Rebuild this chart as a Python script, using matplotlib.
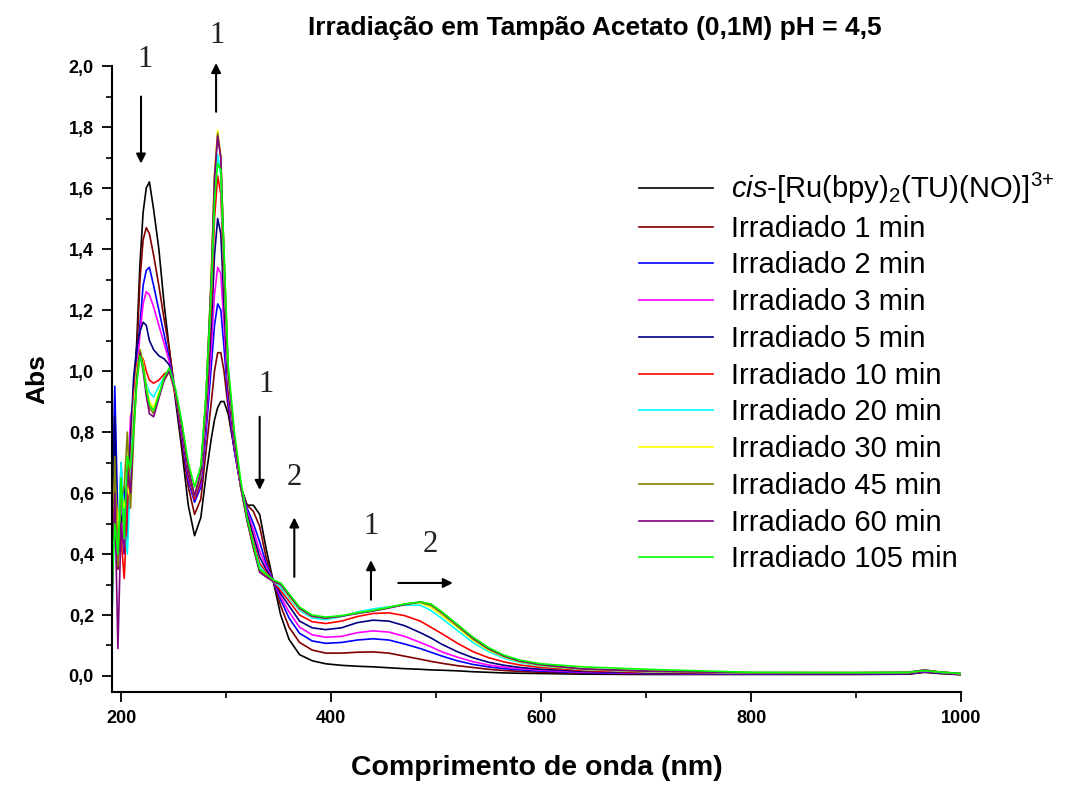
import matplotlib
matplotlib.use("Agg")
import matplotlib.pyplot as plt
from matplotlib.ticker import MultipleLocator, FuncFormatter

plt.rcParams['font.family'] = ['Liberation Sans', 'DejaVu Sans']
plt.rcParams['mathtext.fontset'] = 'custom'
plt.rcParams['mathtext.rm'] = 'Liberation Sans'
plt.rcParams['mathtext.it'] = 'Liberation Sans:italic'

# wavelength grid (nm)
wl = [191, 194, 197, 200, 203, 206, 209, 212, 215,
      218, 221, 224, 227, 231, 236, 241, 246, 252, 258, 264, 270,
      276, 281, 286, 289, 292, 295, 298, 302, 308, 314, 320, 326, 332, 338, 345, 352, 360,
      370, 382, 395, 410, 425, 440, 455, 470, 485, 495, 505, 520, 535, 550, 565, 580, 600,
      640, 700, 800, 900, 950, 965, 980, 1000]

abs_0 = [0.55, 0.78, 0.42, 0.60, 0.48, 0.66, 0.72, 0.90, 1.10,
         1.35, 1.52, 1.60, 1.62, 1.53, 1.40, 1.22, 1.07, 0.90, 0.74, 0.56, 0.46,
         0.52, 0.66, 0.78, 0.84, 0.88, 0.90, 0.90, 0.86, 0.74, 0.62, 0.56, 0.56, 0.53, 0.42, 0.31, 0.20, 0.12,
         0.07, 0.05, 0.04, 0.035, 0.032, 0.03, 0.027, 0.024, 0.022, 0.02, 0.019, 0.017, 0.014, 0.012, 0.01, 0.009, 0.008,
         0.006, 0.005, 0.005, 0.005, 0.006, 0.012, 0.008, 0.004]
abs_1 = [0.40, 0.90, 0.35, 0.70, 0.45, 0.62, 0.80, 0.88, 1.05,
         1.30, 1.43, 1.47, 1.45, 1.38, 1.28, 1.17, 1.07, 0.92, 0.76, 0.62, 0.53,
         0.58, 0.74, 0.90, 1.00, 1.06, 1.06, 1.00, 0.88, 0.74, 0.62, 0.56, 0.54, 0.49, 0.39, 0.31, 0.23, 0.16,
         0.11, 0.085, 0.075, 0.075, 0.078, 0.079, 0.075, 0.065, 0.055, 0.048, 0.042, 0.034, 0.028, 0.022, 0.018, 0.015, 0.012,
         0.009, 0.007, 0.006, 0.006, 0.007, 0.013, 0.009, 0.005]
abs_2 = [0.30, 0.95, 0.50, 0.55, 0.62, 0.48, 0.75, 0.95, 1.02,
         1.15, 1.28, 1.33, 1.34, 1.28, 1.20, 1.12, 1.04, 0.92, 0.78, 0.64, 0.57,
         0.62, 0.80, 1.02, 1.15, 1.22, 1.20, 1.08, 0.90, 0.74, 0.62, 0.55, 0.50, 0.44, 0.37, 0.31, 0.25, 0.19,
         0.14, 0.115, 0.107, 0.11, 0.118, 0.122, 0.118, 0.105, 0.09, 0.078, 0.066, 0.05, 0.038, 0.03, 0.024, 0.02, 0.016,
         0.011, 0.008, 0.007, 0.007, 0.008, 0.014, 0.01, 0.006]
abs_3 = [0.25, 0.70, 0.45, 0.62, 0.40, 0.58, 0.85, 0.90, 1.00,
         1.12, 1.22, 1.26, 1.25, 1.21, 1.15, 1.09, 1.03, 0.92, 0.79, 0.65, 0.58,
         0.63, 0.83, 1.08, 1.25, 1.34, 1.32, 1.15, 0.92, 0.75, 0.62, 0.54, 0.48, 0.41, 0.36, 0.31, 0.26, 0.21,
         0.16, 0.135, 0.127, 0.13, 0.142, 0.148, 0.144, 0.13, 0.11, 0.096, 0.08, 0.062, 0.047, 0.036, 0.029, 0.024, 0.019,
         0.013, 0.009, 0.008, 0.008, 0.009, 0.015, 0.011, 0.006]
abs_5 = [0.45, 0.85, 0.38, 0.50, 0.58, 0.45, 0.78, 0.98, 1.08,
         1.13, 1.16, 1.15, 1.10, 1.07, 1.05, 1.04, 1.02, 0.92, 0.80, 0.66, 0.58,
         0.64, 0.86, 1.15, 1.38, 1.50, 1.45, 1.22, 0.94, 0.76, 0.62, 0.53, 0.46, 0.39, 0.35, 0.31, 0.27, 0.23,
         0.18, 0.158, 0.152, 0.158, 0.175, 0.183, 0.18, 0.165, 0.142, 0.125, 0.105, 0.08, 0.06, 0.045, 0.035, 0.028, 0.022,
         0.015, 0.01, 0.008, 0.008, 0.009, 0.016, 0.011, 0.007]
abs_10 = [0.35, 0.60, 0.52, 0.45, 0.32, 0.55, 0.70, 0.92, 1.02,
          1.05, 1.04, 1.00, 0.97, 0.96, 0.97, 0.99, 1.00, 0.92, 0.81, 0.67, 0.58,
          0.65, 0.88, 1.22, 1.50, 1.64, 1.58, 1.30, 0.96, 0.77, 0.62, 0.52, 0.44, 0.37, 0.34, 0.31, 0.28, 0.245,
          0.20, 0.178, 0.172, 0.18, 0.195, 0.205, 0.207, 0.198, 0.18, 0.16, 0.14, 0.108, 0.08, 0.06, 0.046, 0.036, 0.028,
          0.018, 0.012, 0.009, 0.009, 0.01, 0.017, 0.012, 0.007]
abs_20 = [0.14, 0.55, 0.42, 0.70, 0.50, 0.40, 0.66, 0.88, 1.00,
          1.06, 1.02, 0.96, 0.93, 0.915, 0.95, 0.98, 1.00, 0.93, 0.82, 0.68, 0.59,
          0.66, 0.90, 1.28, 1.58, 1.71, 1.64, 1.34, 0.98, 0.78, 0.62, 0.51, 0.43, 0.36, 0.335, 0.31, 0.29, 0.255,
          0.215, 0.19, 0.185, 0.195, 0.21, 0.22, 0.227, 0.232, 0.232, 0.215, 0.19, 0.15, 0.11, 0.08, 0.058, 0.044, 0.033,
          0.021, 0.014, 0.01, 0.01, 0.011, 0.018, 0.012, 0.008]
abs_30 = [0.30, 0.65, 0.48, 0.60, 0.55, 0.62, 0.58, 0.85, 1.00,
          1.07, 1.03, 0.95, 0.90, 0.88, 0.93, 0.97, 1.00, 0.93, 0.82, 0.68, 0.59,
          0.67, 0.92, 1.32, 1.65, 1.79, 1.70, 1.37, 0.99, 0.78, 0.62, 0.51, 0.42, 0.35, 0.33, 0.31, 0.30, 0.26,
          0.22, 0.195, 0.19, 0.197, 0.207, 0.215, 0.225, 0.235, 0.24, 0.225, 0.20, 0.16, 0.118, 0.085, 0.062, 0.047, 0.035,
          0.022, 0.015, 0.011, 0.011, 0.012, 0.019, 0.013, 0.008]
abs_45 = [0.11, 0.72, 0.36, 0.58, 0.62, 0.80, 0.55, 0.78, 0.98,
          1.07, 1.02, 0.94, 0.88, 0.86, 0.92, 0.97, 1.00, 0.93, 0.82, 0.68, 0.59,
          0.67, 0.92, 1.32, 1.64, 1.78, 1.70, 1.38, 1.00, 0.78, 0.62, 0.51, 0.42, 0.345, 0.33, 0.31, 0.30, 0.265,
          0.222, 0.196, 0.19, 0.197, 0.206, 0.214, 0.224, 0.235, 0.242, 0.232, 0.207, 0.165, 0.122, 0.088, 0.064, 0.048, 0.036,
          0.023, 0.016, 0.011, 0.011, 0.012, 0.019, 0.013, 0.008]
abs_60 = [0.20, 0.60, 0.09, 0.50, 0.40, 0.68, 0.60, 0.82, 0.97,
          1.06, 1.00, 0.92, 0.86, 0.85, 0.91, 0.97, 1.00, 0.93, 0.82, 0.68, 0.59,
          0.67, 0.92, 1.31, 1.63, 1.77, 1.70, 1.38, 1.00, 0.78, 0.62, 0.51, 0.42, 0.34, 0.325, 0.31, 0.30, 0.265,
          0.222, 0.196, 0.19, 0.196, 0.205, 0.213, 0.223, 0.234, 0.243, 0.235, 0.21, 0.168, 0.125, 0.09, 0.065, 0.049, 0.037,
          0.023, 0.016, 0.011, 0.011, 0.012, 0.02, 0.013, 0.008]
abs_105 = [0.25, 0.50, 0.40, 0.65, 0.45, 0.72, 0.68, 0.80, 0.96,
           1.05, 1.01, 0.94, 0.89, 0.87, 0.92, 0.98, 1.01, 0.94, 0.83, 0.70, 0.62,
           0.69, 0.93, 1.28, 1.56, 1.68, 1.66, 1.40, 1.02, 0.80, 0.64, 0.52, 0.43, 0.35, 0.335, 0.315, 0.305, 0.27,
           0.226, 0.20, 0.193, 0.198, 0.207, 0.215, 0.225, 0.236, 0.243, 0.236, 0.212, 0.17, 0.128, 0.093, 0.068, 0.052, 0.04,
           0.03, 0.022, 0.012, 0.011, 0.012, 0.018, 0.013, 0.008]

labels = [r'$\mathit{cis}$-[Ru(bpy)$_2$(TU)(NO)]$^{3\!+}$',
          'Irradiado 1 min', 'Irradiado 2 min', 'Irradiado 3 min', 'Irradiado 5 min',
          'Irradiado 10 min', 'Irradiado 20 min', 'Irradiado 30 min', 'Irradiado 45 min',
          'Irradiado 60 min', 'Irradiado 105 min']
series = [abs_0, abs_1, abs_2, abs_3, abs_5, abs_10, abs_20, abs_30, abs_45, abs_60, abs_105]
colors = ['#000000', '#800000', '#0000FF', '#FF00FF', '#000080', '#FF0000',
          '#00FFFF', '#FFFF00', '#808000', '#800080', '#00FF00']

fig = plt.figure(figsize=(10.7, 7.87), dpi=100)
ax = fig.add_axes([0.1047, 0.1207, 0.7935, 0.7954])

for y, c, lab in zip(series, colors, labels):
    ax.plot(wl, y, color=c, lw=1.2, label=lab)

ax.set_xlim(191.4, 1000)
ax.set_ylim(-0.0525, 2.0)
ax.spines['top'].set_visible(False)
ax.spines['right'].set_visible(False)
for s in ['left', 'bottom']:
    ax.spines[s].set_linewidth(1.5)

ax.xaxis.set_major_locator(MultipleLocator(200))
ax.xaxis.set_minor_locator(MultipleLocator(100))
ax.yaxis.set_major_locator(MultipleLocator(0.2))
ax.yaxis.set_minor_locator(MultipleLocator(0.1))
ax.yaxis.set_major_formatter(FuncFormatter(lambda v, p: f"{v:.1f}".replace('.', ',')))
ax.tick_params(which='major', direction='out', length=7, width=1.3, labelsize=13, pad=6)
ax.tick_params(which='minor', direction='out', length=4, width=1.2)
for t in ax.get_xticklabels() + ax.get_yticklabels():
    t.set_fontweight('bold')

ax.set_xlabel('Comprimento de onda (nm)', fontsize=20.5, fontweight='bold', labelpad=20)
ax.set_ylabel('Abs', fontsize=19, fontweight='bold', labelpad=14)
fig.text(0.556, 0.964, 'Irradiação em Tampão Acetato (0,1M) pH = 4,5', ha='center', va='center',
         fontsize=19, fontweight='bold')

ax.legend(loc='upper left', bbox_to_anchor=(0.597, 0.783), bbox_transform=fig.transFigure,
          frameon=False, fontsize=21, handlelength=2.55, handletextpad=0.6,
          labelspacing=0.30, borderpad=0, borderaxespad=0)

# arrows and band labels
arrow_kw = dict(arrowstyle='-|>', color='black', lw=1.5, mutation_scale=14, shrinkA=0, shrinkB=0)
num_kw = dict(fontsize=22, family=['Liberation Serif', 'DejaVu Serif'], color='#222222',
              ha='center', va='center')
ax.annotate('', xy=(219, 1.68), xytext=(219, 1.90), arrowprops=arrow_kw)
ax.text(223, 2.02, '1', **num_kw)
ax.annotate('', xy=(290.5, 2.01), xytext=(290.5, 1.85), arrowprops=arrow_kw, annotation_clip=False)
ax.text(291.5, 2.10, '1', clip_on=False, **num_kw)
ax.annotate('', xy=(332, 0.61), xytext=(332, 0.85), arrowprops=arrow_kw)
ax.text(338, 0.955, '1', **num_kw)
ax.annotate('', xy=(365, 0.52), xytext=(365, 0.325), arrowprops=arrow_kw)
ax.text(365, 0.65, '2', **num_kw)
ax.annotate('', xy=(438, 0.38), xytext=(438, 0.25), arrowprops=arrow_kw)
ax.text(438, 0.49, '1', **num_kw)
ax.annotate('', xy=(516, 0.305), xytext=(464, 0.305), arrowprops=arrow_kw)
ax.text(494, 0.43, '2', **num_kw)

fig.savefig('out.png', dpi=100)
